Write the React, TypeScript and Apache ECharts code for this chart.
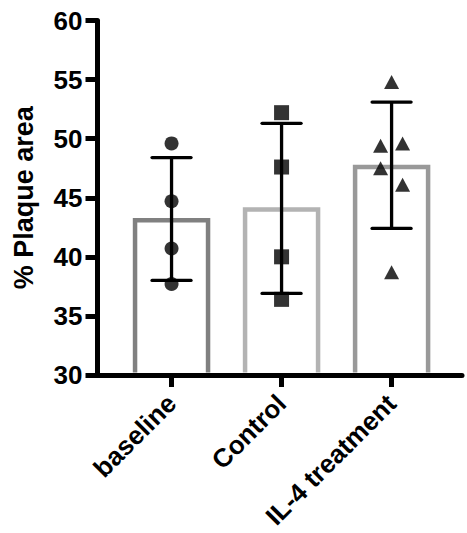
import React, { useEffect, useRef } from "react";
import * as echarts from "echarts";

// ---------- data ----------
const categories = ["baseline", "Control", "IL-4 treatment"];
const means = [43.1, 44.0, 47.6];
const errLow = [38.0, 36.9, 42.4];
const errHigh = [48.4, 51.3, 53.1];
const baselinePoints = [49.6, 44.7, 40.7, 37.7];
const controlPoints = [52.2, 47.6, 40.0, 36.4];
const il4Points = [54.8, 49.4, 49.6, 47.5, 46.1, 38.7];
const yMin = 30;
const yMax = 60;
const yStep = 5;

// ---------- styles / layout ----------
const FONT = "'Liberation Sans', Arial, Helvetica, sans-serif";
const barColors = ["#808080", "#b3b3b3", "#999999"];
const il4OffsetsPx = [0, -11, 11, -11, 11, 0];
const BAR_W = 73;
const CAP_W = 39;

export default function App() {
  const ref = useRef<HTMLDivElement>(null);

  useEffect(() => {
    if (!ref.current) return;
    const chart = echarts.init(ref.current, null, { renderer: "svg" });

    const barData = means.map((m, i) => [i, m]);
    const errData = means.map((m, i) => [i, errLow[i], errHigh[i]]);

    const option: any = {
      animation: false,
      backgroundColor: "#fff",
      textStyle: { fontFamily: FONT },
      grid: { left: 97.5, right: 5, top: 20.5, bottom: 158, containLabel: false },
      xAxis: {
        type: "value",
        min: -0.673,
        max: 2.64,
        splitLine: { show: false },
        axisLine: { show: true, onZero: false, lineStyle: { color: "#000", width: 5 } },
        axisTick: {
          show: true,
          length: 12,
          lineStyle: { color: "#000", width: 5 },
          customValues: [0, 1, 2],
        },
        axisLabel: {
          show: true,
          customValues: [0, 1, 2],
          rotate: 45,
          margin: 24,
          fontSize: 26,
          fontWeight: "bold",
          color: "#000",
          fontFamily: FONT,
          formatter: (v: number) => categories[Math.round(v)] ?? "",
        },
      },
      yAxis: {
        type: "value",
        min: yMin,
        max: yMax,
        interval: yStep,
        name: "% Plaque area",
        nameLocation: "middle",
        nameRotate: 90,
        nameGap: 60,
        nameTextStyle: { fontSize: 27, fontWeight: "bold", color: "#000", fontFamily: FONT },
        splitLine: { show: false },
        axisLine: { show: true, onZero: false, lineStyle: { color: "#000", width: 5 } },
        axisTick: { show: true, length: 12, lineStyle: { color: "#000", width: 5 } },
        axisLabel: {
          margin: 15,
          fontSize: 26,
          fontWeight: "bold",
          color: "#000",
          fontFamily: FONT,
        },
      },
      series: [
        {
          type: "custom",
          name: "bars",
          z: 2,
          data: barData,
          renderItem: (params: any, api: any) => {
            const x = api.value(0);
            const v = api.value(1);
            const top = api.coord([x, v]);
            const bot = api.coord([x, yMin]);
            const l = top[0] - BAR_W / 2;
            const r = top[0] + BAR_W / 2;
            const b = bot[1] - 2.5;
            return {
              type: "polyline",
              shape: { points: [[l, b], [l, top[1]], [r, top[1]], [r, b]] },
              style: {
                fill: "none",
                stroke: barColors[params.dataIndex],
                lineWidth: 4.5,
                lineJoin: "miter",
              },
            };
          },
        },
        {
          type: "custom",
          name: "error",
          z: 3,
          data: errData,
          renderItem: (params: any, api: any) => {
            const x = api.value(0);
            const lo = api.coord([x, api.value(1)]);
            const hi = api.coord([x, api.value(2)]);
            const st = { stroke: "#000", lineWidth: 3.3, lineCap: "round" };
            return {
              type: "group",
              children: [
                { type: "line", shape: { x1: lo[0], y1: lo[1], x2: hi[0], y2: hi[1] }, style: { ...st, lineCap: "butt" } },
                { type: "line", shape: { x1: hi[0] - CAP_W / 2, y1: hi[1], x2: hi[0] + CAP_W / 2, y2: hi[1] }, style: st },
                { type: "line", shape: { x1: lo[0] - CAP_W / 2, y1: lo[1], x2: lo[0] + CAP_W / 2, y2: lo[1] }, style: st },
              ],
            };
          },
        },
        {
          type: "scatter",
          name: "baseline",
          z: 4,
          symbol: "circle",
          symbolSize: 14,
          itemStyle: { color: "#000" },
          data: baselinePoints.map((v) => [0, v]),
        },
        {
          type: "scatter",
          name: "Control",
          z: 4,
          symbol: "rect",
          symbolSize: 15,
          itemStyle: { color: "#000" },
          data: controlPoints.map((v) => [1, v]),
        },
        {
          type: "scatter",
          name: "IL-4 treatment",
          z: 4,
          symbol: "triangle",
          symbolSize: [15, 14],
          itemStyle: { color: "#000" },
          data: il4Points.map((v, i) => ({ value: [2, v], symbolOffset: [il4OffsetsPx[i], 0] })),
        },
      ],
    };

    chart.setOption(option);
    return () => chart.dispose();
  }, []);

  return (
    <div
      ref={ref}
      style={{ position: "absolute", left: 0, top: 0, width: 467, height: 533 }}
    />
  );
}
